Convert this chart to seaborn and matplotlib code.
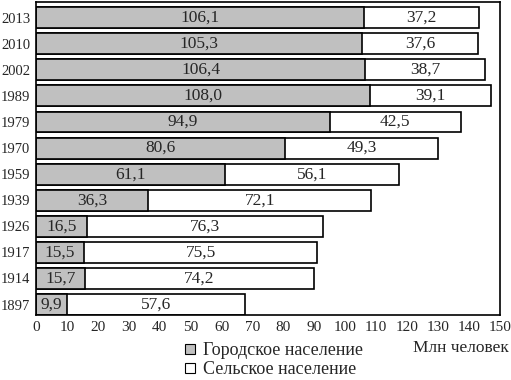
import matplotlib
matplotlib.use("Agg")
import matplotlib.pyplot as plt
import seaborn as sns
import pandas as pd
from matplotlib.lines import Line2D

years = ["2013", "2010", "2002", "1989", "1979", "1970", "1959", "1939", "1926", "1917", "1914", "1897"]
urban = [106.1, 105.3, 106.4, 108.0, 94.9, 80.6, 61.1, 36.3, 16.5, 15.5, 15.7, 9.9]
rural = [37.2, 37.6, 38.7, 39.1, 42.5, 49.3, 56.1, 72.1, 76.3, 75.5, 74.2, 57.6]
xticks = list(range(0, 151, 10))

df = pd.DataFrame({"year": years, "urban": urban, "rural": rural})
df["total"] = df["urban"] + df["rural"]

sns.set_style("white")
plt.rcParams["font.family"] = ["Liberation Serif", "DejaVu Serif"]

fig = plt.figure(figsize=(5.11, 3.8), dpi=100)
ax = fig.add_axes([36/511, 1-315/380, (500-36)/511, (315-2)/380])

sns.barplot(data=df, x="total", y="year", order=years, orient="h", color="white",
            edgecolor="black", linewidth=1.2, width=0.8, ax=ax, saturation=1)
sns.barplot(data=df, x="urban", y="year", order=years, orient="h", color="#c0c0c0",
            edgecolor="black", linewidth=1.2, width=0.8, ax=ax, saturation=1)

for i, (u, r) in enumerate(zip(urban, rural)):
    ax.text(u/2, i, f"{u:.1f}".replace(".", ","), ha="center", va="center", fontsize=12.5)
    ax.text(u + r/2, i, f"{r:.1f}".replace(".", ","), ha="center", va="center", fontsize=12.5)

ax.set_xlim(0, 150)
ax.set_ylim(11.4, -0.6)
ax.set_xticks(xticks)
ax.set_xticklabels([str(t) for t in xticks])
ax.tick_params(axis="x", length=0, labelsize=11, pad=4)
ax.tick_params(axis="y", length=0, labelsize=10.5, pad=4)
ax.set_xlabel("")
ax.set_ylabel("")
for s in ax.spines.values():
    s.set_visible(True)
    s.set_color("black")
    s.set_linewidth(1.2)

fig.text(509/511, 1-348/380, "Млн человек", ha="right", va="center", fontsize=12.5)

handles = [
    Line2D([], [], marker="s", linestyle="none", markersize=6.5, markerfacecolor="#c0c0c0",
           markeredgecolor="black", markeredgewidth=0.8, label="Городское население"),
    Line2D([], [], marker="s", linestyle="none", markersize=6.5, markerfacecolor="white",
           markeredgecolor="black", markeredgewidth=0.8, label="Сельское население"),
]
fig.legend(handles=handles, loc="upper left", bbox_to_anchor=(183/511, 1-342/380), frameon=False,
           fontsize=13, handlelength=0.8, handletextpad=0.3, labelspacing=0.12, borderpad=0,
           borderaxespad=0)

fig.savefig("out.png", dpi=100)
